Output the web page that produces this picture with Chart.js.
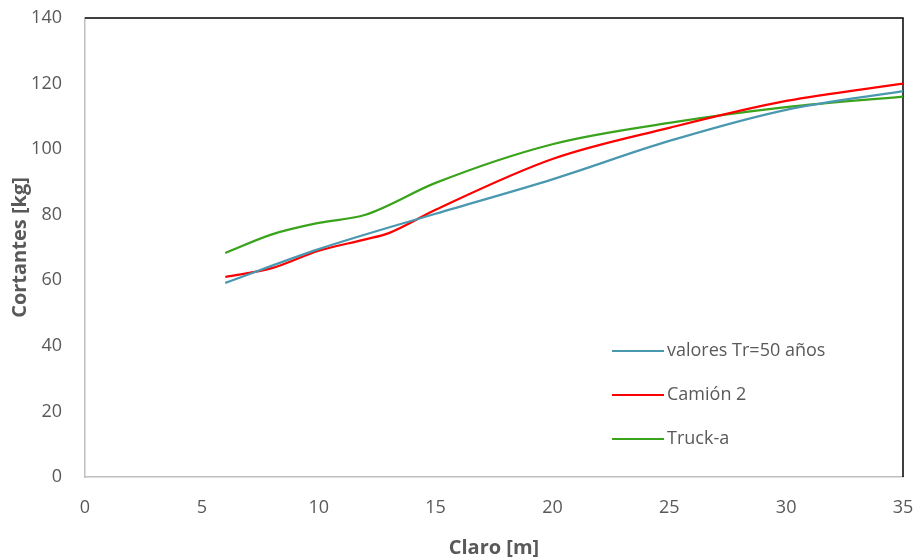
<!DOCTYPE html>
<html>
<head>
<meta charset="utf-8">
<script src="https://cdn.jsdelivr.net/npm/chart.js@4/dist/chart.umd.min.js"></script>
<style>
    html, body { margin: 0; padding: 0; background: #fff; }
    #wrap { width: 920px; height: 560px; }
</style>
</head>
<body>
<div id="wrap"><canvas id="chart" width="920" height="560"></canvas></div>
<script>
// series data (x = claro [m], y = cortante [kg])
const seriesLabels = ["valores Tr=50 años", "Camión 2", "Truck-a"];
const seriesColors = ["#4a98b0", "#ff0000", "#3aa31c"];

const tr50X = [6, 10, 15, 20, 25, 30, 35];
const tr50Y = [59.2, 69.5, 80.3, 90.8, 102.5, 112, 117.7];

const camionX = [6, 8, 10, 12, 13, 15, 20, 25, 30, 35];
const camionY = [61, 63.7, 69, 72.5, 74.4, 81.5, 97, 106.5, 114.7, 120];

const truckX = [6, 8, 10, 12, 15, 20, 25, 30, 35];
const truckY = [68.3, 74, 77.5, 80, 89.7, 101.5, 108, 112.8, 116];

const xTicks = [0, 5, 10, 15, 20, 25, 30, 35];
const yTicks = [0, 20, 40, 60, 80, 100, 120, 140];

const FONT = "'Open Sans', 'Noto Sans', sans-serif";
const TEXT = "#595959";

function toPoints(xs, ys) {
    return xs.map((x, i) => ({ x: x, y: ys[i] }));
}

// top and right border of the plot area in black
const frame = {
    id: "frame",
    beforeDatasetsDraw(chart) {
        const { ctx, chartArea: a } = chart;
        ctx.save();
        ctx.strokeStyle = "#000";
        ctx.lineWidth = 1.5;
        ctx.beginPath();
        ctx.moveTo(a.left, a.top);
        ctx.lineTo(a.right, a.top);
        ctx.lineTo(a.right, a.bottom);
        ctx.stroke();
        ctx.restore();
    },
};

// legend sits inside the plot, lower right
const innerLegend = {
    id: "innerLegend",
    afterDraw(chart) {
        const { ctx, chartArea: a } = chart;
        const x0 = a.left + 527;
        let y = a.top + 333;
        ctx.save();
        ctx.font = "18px " + FONT;
        ctx.textBaseline = "middle";
        ctx.fillStyle = TEXT;
        chart.data.datasets.forEach((ds) => {
            ctx.strokeStyle = ds.borderColor;
            ctx.lineWidth = 2;
            ctx.beginPath();
            ctx.moveTo(x0, y);
            ctx.lineTo(x0 + 52, y);
            ctx.stroke();
            ctx.fillText(ds.label, x0 + 55, y);
            y += 44;
        });
        ctx.restore();
    },
};

const ctx = document.getElementById("chart").getContext("2d");

new Chart(ctx, {
    type: "line",
    data: {
        datasets: [
            { label: seriesLabels[0], data: toPoints(tr50X, tr50Y), borderColor: seriesColors[0] },
            { label: seriesLabels[1], data: toPoints(camionX, camionY), borderColor: seriesColors[1] },
            { label: seriesLabels[2], data: toPoints(truckX, truckY), borderColor: seriesColors[2] },
        ].map((d) => ({
            ...d,
            borderWidth: 2.25,
            pointRadius: 0,
            fill: false,
            tension: 0.4,
            cubicInterpolationMode: "monotone",
        })),
    },
    options: {
        responsive: false,
        animation: false,
        layout: { padding: { top: 18, right: 17, left: 0, bottom: 0 } },
        plugins: {
            legend: { display: false },
            tooltip: { enabled: false },
        },
        scales: {
            x: {
                type: "linear",
                min: 0,
                max: 35,
                afterBuildTicks: (s) => { s.ticks = xTicks.map((v) => ({ value: v })); },
                afterFit: (s) => {
                    s.height = 83;
                    s.paddingLeft = 0;
                    s.paddingRight = 0;
                },
                grid: { display: false, drawTicks: false },
                border: { color: "#bfbfbf", width: 1.5 },
                ticks: { padding: 20, color: TEXT, font: { family: FONT, size: 18 } },
                title: {
                    display: true,
                    text: "Claro [m]",
                    color: TEXT,
                    padding: { top: 2, bottom: 0 },
                    font: { family: FONT, size: 20, weight: "bold" },
                },
            },
            y: {
                min: 0,
                max: 140,
                afterBuildTicks: (s) => { s.ticks = yTicks.map((v) => ({ value: v })); },
                afterFit: (s) => {
                    s.width = 85;
                    s.paddingTop = 0;
                    s.paddingBottom = 0;
                },
                grid: { display: false, drawTicks: false },
                border: { color: "#bfbfbf", width: 1.5 },
                ticks: { padding: 23, color: TEXT, font: { family: FONT, size: 18 } },
                title: {
                    display: true,
                    text: "Cortantes [kg]",
                    color: TEXT,
                    padding: { top: 8, bottom: 0 },
                    font: { family: FONT, size: 20, weight: "bold" },
                },
            },
        },
    },
    plugins: [frame, innerLegend],
});
</script>
</body>
</html>
